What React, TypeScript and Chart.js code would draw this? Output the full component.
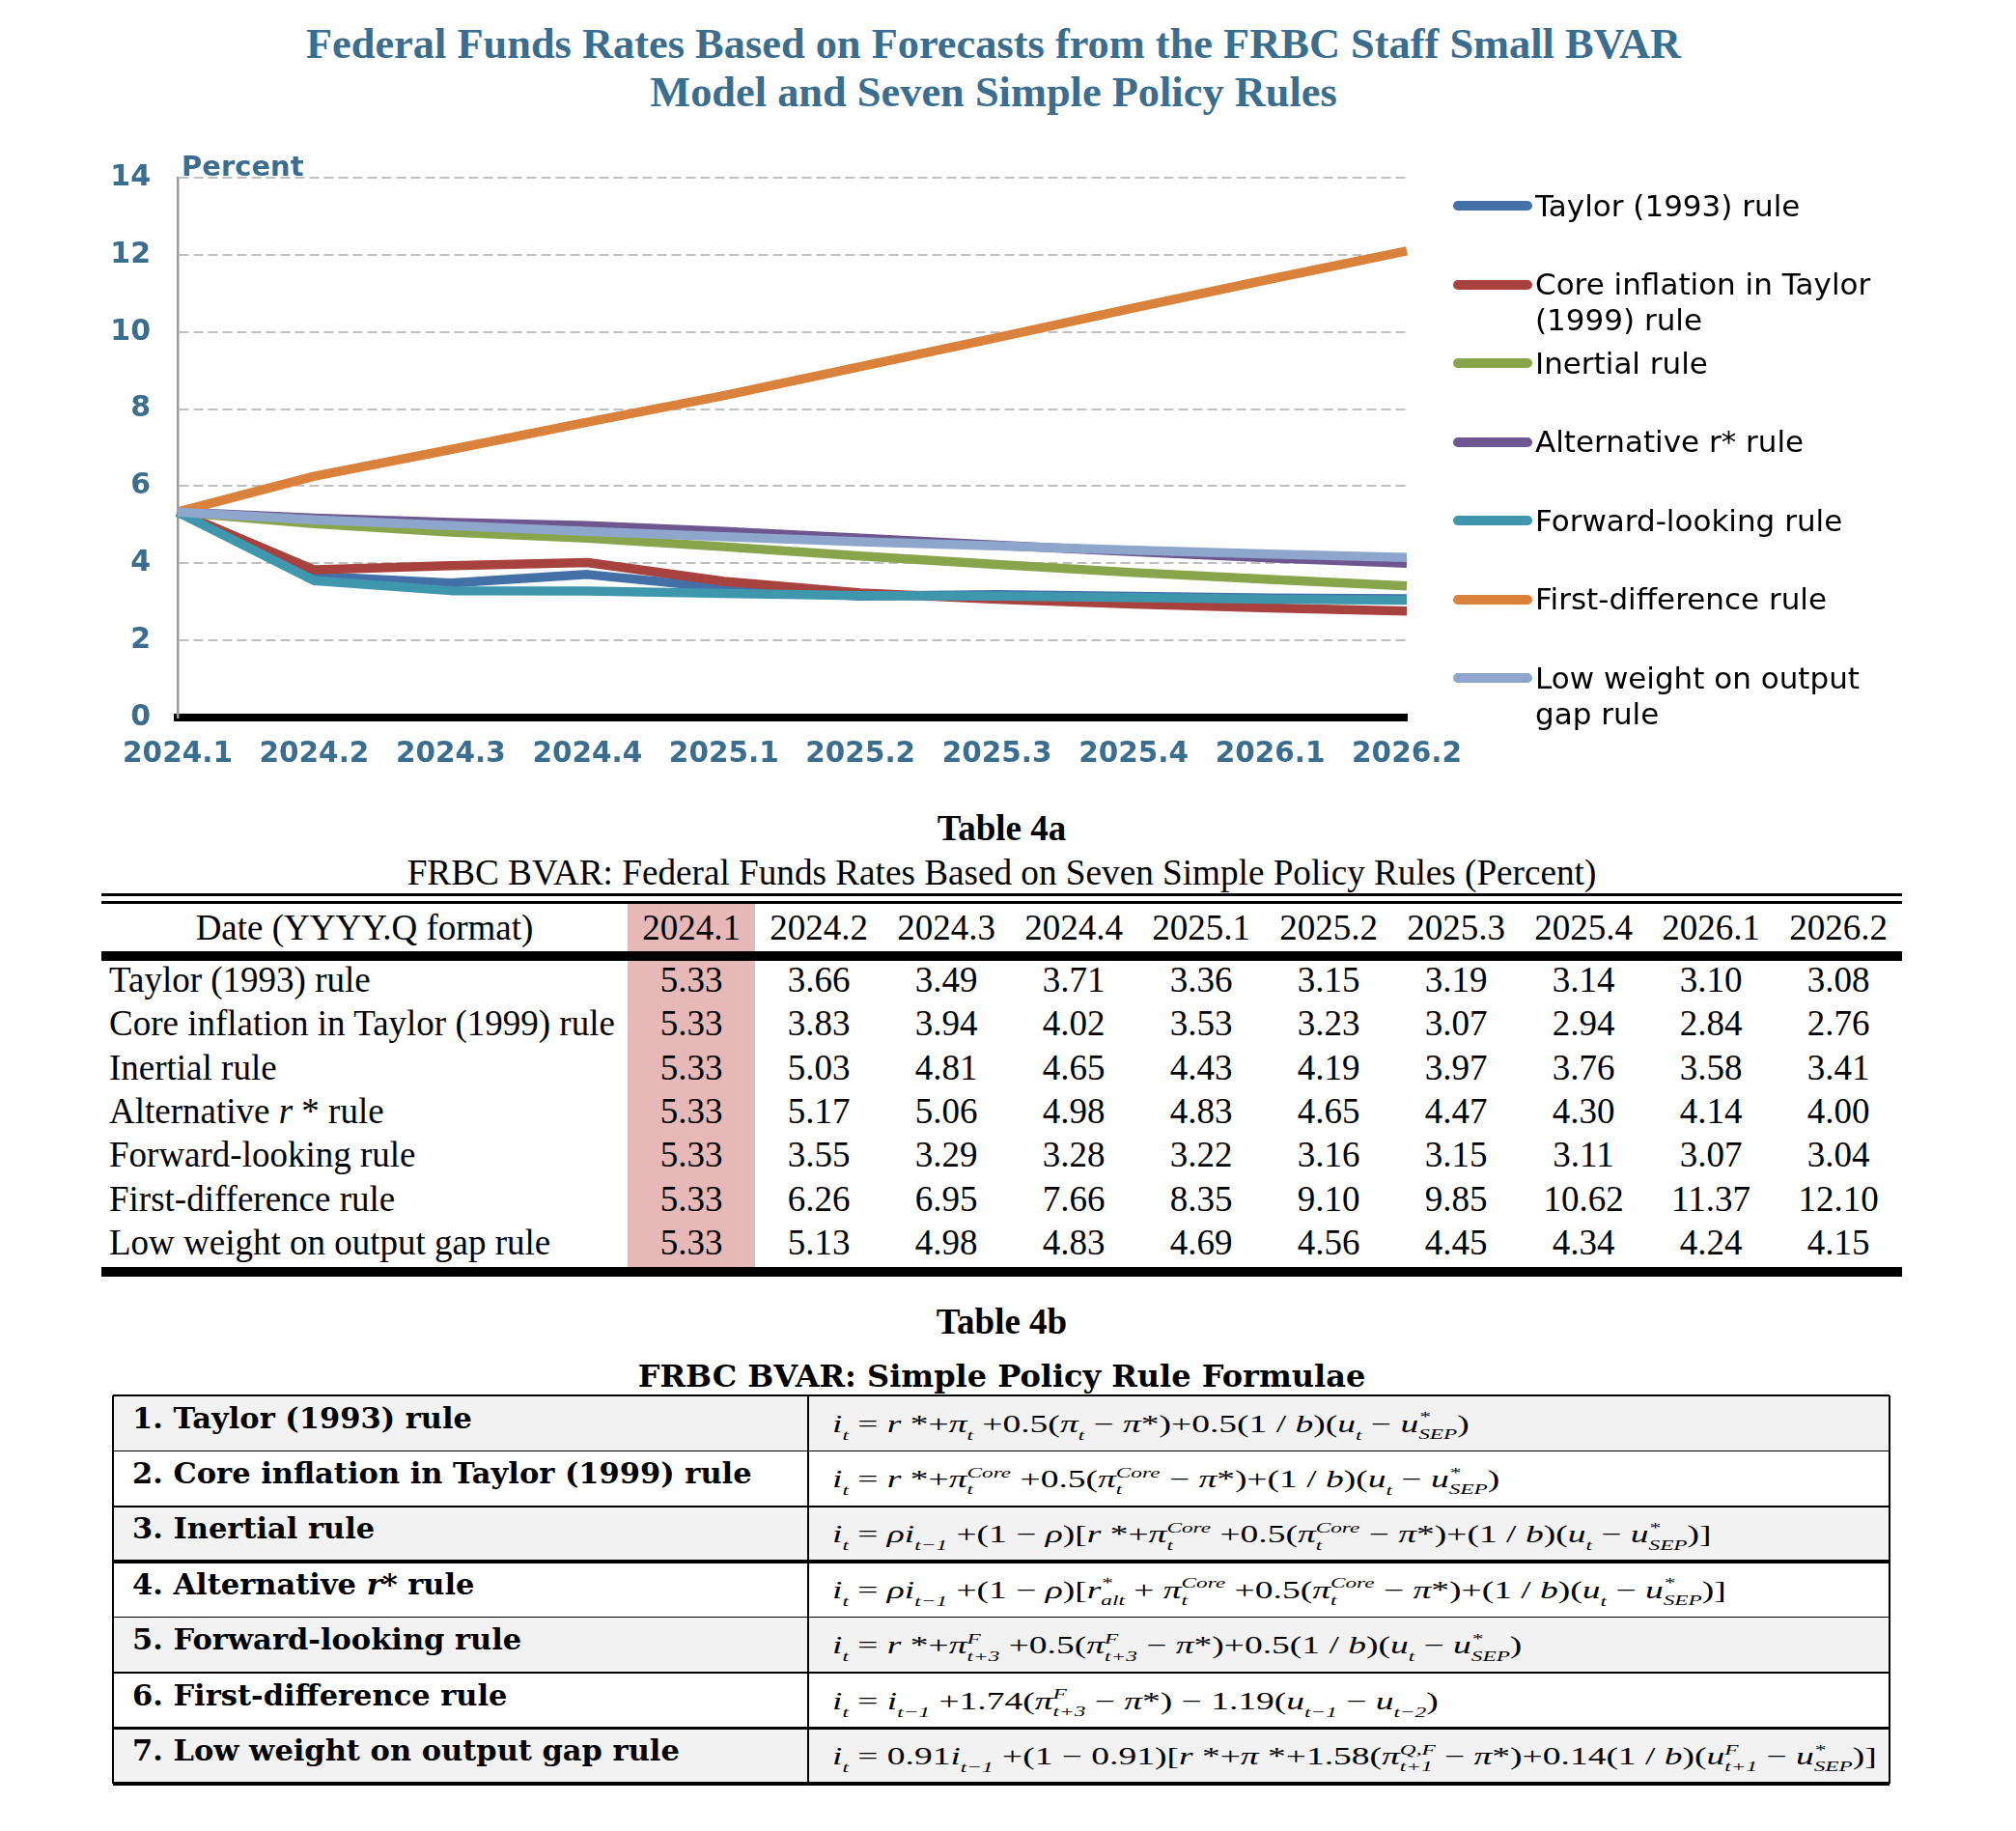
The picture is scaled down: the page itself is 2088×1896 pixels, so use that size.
import React, { useEffect, useRef } from 'react';
import { Chart, registerables } from 'chart.js';

Chart.register(...registerables);

// ---------- data ----------
const categories = ['2024.1', '2024.2', '2024.3', '2024.4', '2025.1', '2025.2', '2025.3', '2025.4', '2026.1', '2026.2'];
const taylor1993 = [5.33, 3.66, 3.49, 3.71, 3.36, 3.15, 3.19, 3.14, 3.10, 3.08];
const coreTaylor1999 = [5.33, 3.83, 3.94, 4.02, 3.53, 3.23, 3.07, 2.94, 2.84, 2.76];
const inertial = [5.33, 5.03, 4.81, 4.65, 4.43, 4.19, 3.97, 3.76, 3.58, 3.41];
const alternativeRStar = [5.33, 5.17, 5.06, 4.98, 4.83, 4.65, 4.47, 4.30, 4.14, 4.00];
const forwardLooking = [5.33, 3.55, 3.29, 3.28, 3.22, 3.16, 3.15, 3.11, 3.07, 3.04];
const firstDifference = [5.33, 6.26, 6.95, 7.66, 8.35, 9.10, 9.85, 10.62, 11.37, 12.10];
const lowWeightOutputGap = [5.33, 5.13, 4.98, 4.83, 4.69, 4.56, 4.45, 4.34, 4.24, 4.15];

const seriesValues = [taylor1993, coreTaylor1999, inertial, alternativeRStar, forwardLooking, firstDifference, lowWeightOutputGap];
const seriesNames = [
  'Taylor (1993) rule',
  'Core inflation in Taylor (1999) rule',
  'Inertial rule',
  'Alternative r* rule',
  'Forward-looking rule',
  'First-difference rule',
  'Low weight on output gap rule',
];
const legendLabels = [
  'Taylor (1993) rule',
  'Core inflation in Taylor\n(1999) rule',
  'Inertial rule',
  'Alternative r* rule',
  'Forward-looking rule',
  'First-difference rule',
  'Low weight on output\ngap rule',
];
const seriesColors = ['#4470A8', '#A8423F', '#88A54C', '#6E5690', '#3F97AE', '#DA823B', '#8EA6CC'];
const yTickValues = [0, 2, 4, 6, 8, 10, 12, 14];

const formulaLabels = [
  '1. Taylor (1993) rule',
  '2. Core inflation in Taylor (1999) rule',
  '3. Inertial rule',
  '4. Alternative r* rule',
  '5. Forward-looking rule',
  '6. First-difference rule',
  '7. Low weight on output gap rule',
];

const BLUE = '#3b6d8f';

// ---------- formula helpers ----------
const I = ({ children }: { children: any }) => <i>{children}</i>;
const Sb = ({ children }: { children: any }) => (
  <span style={{ fontSize: '0.62em', verticalAlign: '-0.5em', fontStyle: 'italic' }}>{children}</span>
);
const SS = ({ sup, sub }: { sup: string; sub: string }) => (
  <span style={{ display: 'inline-flex', flexDirection: 'column', verticalAlign: '0.42em', lineHeight: 1 }}>
    <span style={{ fontSize: '0.62em', lineHeight: 1.15, fontStyle: 'italic' }}>{sup}</span>
    <span style={{ fontSize: '0.62em', lineHeight: 1.15, fontStyle: 'italic' }}>{sub}</span>
  </span>
);

const f1 = (
  <>
    <I>i</I><Sb>t</Sb>{' = '}<I>r</I>{' *+'}<I>π</I><Sb>t</Sb>{' +0.5('}<I>π</I><Sb>t</Sb>{' − '}<I>π</I>{'*)+0.5(1 / '}<I>b</I>{')('}<I>u</I><Sb>t</Sb>{' − '}<I>u</I><SS sup="*" sub="SEP" />{')'}
  </>
);
const f2 = (
  <>
    <I>i</I><Sb>t</Sb>{' = '}<I>r</I>{' *+'}<I>π</I><SS sup="Core" sub="t" />{' +0.5('}<I>π</I><SS sup="Core" sub="t" />{' − '}<I>π</I>{'*)+(1 / '}<I>b</I>{')('}<I>u</I><Sb>t</Sb>{' − '}<I>u</I><SS sup="*" sub="SEP" />{')'}
  </>
);
const f3 = (
  <>
    <I>i</I><Sb>t</Sb>{' = '}<I>ρi</I><Sb>t−1</Sb>{' +(1 − '}<I>ρ</I>{')['}<I>r</I>{' *+'}<I>π</I><SS sup="Core" sub="t" />{' +0.5('}<I>π</I><SS sup="Core" sub="t" />{' − '}<I>π</I>{'*)+(1 / '}<I>b</I>{')('}<I>u</I><Sb>t</Sb>{' − '}<I>u</I><SS sup="*" sub="SEP" />{')]'}
  </>
);
const f4 = (
  <>
    <I>i</I><Sb>t</Sb>{' = '}<I>ρi</I><Sb>t−1</Sb>{' +(1 − '}<I>ρ</I>{')['}<I>r</I><SS sup="*" sub="alt" />{' + '}<I>π</I><SS sup="Core" sub="t" />{' +0.5('}<I>π</I><SS sup="Core" sub="t" />{' − '}<I>π</I>{'*)+(1 / '}<I>b</I>{')('}<I>u</I><Sb>t</Sb>{' − '}<I>u</I><SS sup="*" sub="SEP" />{')]'}
  </>
);
const f5 = (
  <>
    <I>i</I><Sb>t</Sb>{' = '}<I>r</I>{' *+'}<I>π</I><SS sup="F" sub="t+3" />{' +0.5('}<I>π</I><SS sup="F" sub="t+3" />{' − '}<I>π</I>{'*)+0.5(1 / '}<I>b</I>{')('}<I>u</I><Sb>t</Sb>{' − '}<I>u</I><SS sup="*" sub="SEP" />{')'}
  </>
);
const f6 = (
  <>
    <I>i</I><Sb>t</Sb>{' = '}<I>i</I><Sb>t−1</Sb>{' +1.74('}<I>π</I><SS sup="F" sub="t+3" />{' − '}<I>π</I>{'*) − 1.19('}<I>u</I><Sb>t−1</Sb>{' − '}<I>u</I><Sb>t−2</Sb>{')'}
  </>
);
const f7 = (
  <>
    <I>i</I><Sb>t</Sb>{' = 0.91'}<I>i</I><Sb>t−1</Sb>{' +(1 − 0.91)['}<I>r</I>{' *+'}<I>π</I>{' *+1.58('}<I>π</I><SS sup="Q,F" sub="t+1" />{' − '}<I>π</I>{'*)+0.14(1 / '}<I>b</I>{')('}<I>u</I><SS sup="F" sub="t+1" />{' − '}<I>u</I><SS sup="*" sub="SEP" />{')]'}
  </>
);
const formulas = [f1, f2, f3, f4, f5, f6, f7];

function renderRuleLabel(name: string) {
  const idx = name.indexOf('r*');
  if (idx < 0) return name;
  return (
    <>
      {name.slice(0, idx)}<i>r</i>{name.slice(idx + 1)}
    </>
  );
}

const percentPlugin = {
  id: 'percentLabel',
  afterDraw(chart: any) {
    const { ctx, chartArea } = chart;
    ctx.save();
    ctx.font = 'bold 29px "DejaVu Sans"';
    ctx.fillStyle = BLUE;
    ctx.textAlign = 'left';
    ctx.textBaseline = 'alphabetic';
    ctx.fillText('Percent', chartArea.left + 4, chartArea.top - 2);
    ctx.restore();
  },
};

export default function App() {
  const canvasRef = useRef<HTMLCanvasElement | null>(null);

  useEffect(() => {
    if (!canvasRef.current) return;
    const n = seriesValues.length;
    const chart = new Chart(canvasRef.current, {
      type: 'line',
      data: {
        labels: categories,
        datasets: seriesValues.map((data, i) => ({
          label: seriesNames[i],
          data,
          borderColor: seriesColors[i],
          backgroundColor: seriesColors[i],
          borderWidth: 9.5,
          pointRadius: 0,
          pointHoverRadius: 0,
          tension: 0,
          fill: false,
          borderCapStyle: 'butt',
          borderJoinStyle: 'round',
          order: n - i,
        })),
      },
      options: {
        responsive: false,
        maintainAspectRatio: false,
        animation: false,
        devicePixelRatio: 1,
        layout: { padding: { top: 64, right: 103, left: 0, bottom: 0 } },
        plugins: {
          legend: { display: false },
          tooltip: { enabled: false },
          title: { display: false },
        },
        scales: {
          x: {
            type: 'category',
            offset: false,
            grid: { display: false, drawTicks: false },
            border: { display: true, color: '#000000', width: 8 },
            ticks: {
              color: BLUE,
              font: { family: 'DejaVu Sans', size: 29.5, weight: 'bold' },
              padding: 21,
              maxRotation: 0,
              autoSkip: false,
            },
            afterFit: (s: any) => {
              s.height = 77;
            },
          },
          y: {
            min: yTickValues[0],
            max: yTickValues[yTickValues.length - 1],
            afterBuildTicks: (s: any) => {
              s.ticks = yTickValues.map((v) => ({ value: v }));
            },
            ticks: {
              color: BLUE,
              font: { family: 'DejaVu Sans', size: 30, weight: 'bold' },
              padding: 28,
              callback: (v: any) => String(v),
            },
            grid: {
              color: (ctx: any) => (ctx.tick && ctx.tick.value === 0 ? 'rgba(0,0,0,0)' : '#BFBFBF'),
              lineWidth: 2,
              drawTicks: false,
            },
            border: { display: true, color: '#9A9A9A', width: 2.5, dash: [10, 5] },
            afterFit: (s: any) => {
              s.width = 184;
            },
          },
        },
      } as any,
      plugins: [percentPlugin],
    });
    return () => chart.destroy();
  }, []);

  const T4A_LEFT = 105;
  const T4A_FIRST = 545;
  const T4A_COLW = 132;
  const T4A_WIDTH = T4A_FIRST + T4A_COLW * categories.length;
  const ROW_H = 45.3;
  const ROWS_TOP = 995;
  const serif = '"Liberation Serif", "Times New Roman", serif';

  const T4B_LEFT = 117;
  const T4B_RIGHT = 1957;
  const T4B_DIV = 837;
  const T4B_TOP = 1445;
  const T4B_ROW = 57.4;

  return (
    <div
      style={{
        position: 'absolute',
        left: 0,
        top: 0,
        width: 2088,
        height: 1896,
        overflow: 'hidden',
        background: '#ffffff',
        color: '#000',
      }}
    >
      {/* Title */}
      <div
        style={{
          position: 'absolute',
          left: 0,
          top: 20,
          width: 2058,
          textAlign: 'center',
          fontFamily: serif,
          fontWeight: 'bold',
          fontSize: 44.4,
          lineHeight: '50px',
          color: BLUE,
        }}
      >
        Federal Funds Rates Based on Forecasts from the FRBC Staff Small BVAR
        <br />
        Model and Seven Simple Policy Rules
      </div>

      {/* Chart */}
      <canvas
        ref={canvasRef}
        width={1560}
        height={700}
        style={{ position: 'absolute', left: 0, top: 120, width: 1560, height: 700 }}
      />

      {/* Legend */}
      {legendLabels.map((lab, i) => {
        const cy = 213 + i * 81.5;
        return (
          <div
            key={i}
            style={{ position: 'absolute', left: 1505, top: cy - 18.5, display: 'flex', alignItems: 'flex-start' }}
          >
            <div style={{ width: 82, height: 10, borderRadius: 5, background: seriesColors[i], marginTop: 13.5 }} />
            <div
              style={{
                marginLeft: 3,
                fontFamily: '"DejaVu Sans", Verdana, sans-serif',
                fontSize: 31,
                lineHeight: '37px',
                whiteSpace: 'pre',
                color: '#000',
              }}
            >
              {lab}
            </div>
          </div>
        );
      })}

      {/* Table 4a */}
      <div
        style={{
          position: 'absolute',
          left: T4A_LEFT,
          width: T4A_WIDTH,
          top: 834.5,
          lineHeight: '46px',
          textAlign: 'center',
          fontFamily: serif,
          fontWeight: 'bold',
          fontSize: 37,
        }}
      >
        Table 4a
      </div>
      <div
        style={{
          position: 'absolute',
          left: T4A_LEFT,
          width: T4A_WIDTH,
          top: 880.5,
          lineHeight: '46px',
          textAlign: 'center',
          fontFamily: serif,
          fontSize: 37.2,
          whiteSpace: 'nowrap',
        }}
      >
        FRBC BVAR: Federal Funds Rates Based on Seven Simple Policy Rules (Percent)
      </div>
      <div style={{ position: 'absolute', left: T4A_LEFT, top: 925, width: T4A_WIDTH, height: 3, background: '#000' }} />
      <div style={{ position: 'absolute', left: T4A_LEFT, top: 933, width: T4A_WIDTH, height: 3, background: '#000' }} />
      <div
        style={{
          position: 'absolute',
          left: T4A_LEFT + T4A_FIRST,
          top: 936,
          width: T4A_COLW,
          height: 1312 - 936,
          background: '#E6B9B8',
        }}
      />
      {/* header */}
      <div
        style={{
          position: 'absolute',
          left: T4A_LEFT,
          top: 936,
          width: T4A_FIRST,
          height: 49,
          lineHeight: '49px',
          textAlign: 'center',
          fontFamily: serif,
          fontSize: 37,
          whiteSpace: 'nowrap',
        }}
      >
        Date (YYYY.Q format)
      </div>
      {categories.map((c, j) => (
        <div
          key={c}
          style={{
            position: 'absolute',
            left: T4A_LEFT + T4A_FIRST + j * T4A_COLW,
            top: 936,
            width: T4A_COLW,
            height: 49,
            lineHeight: '49px',
            textAlign: 'center',
            fontFamily: serif,
            fontSize: 37,
          }}
        >
          {c}
        </div>
      ))}
      <div style={{ position: 'absolute', left: T4A_LEFT, top: 985, width: T4A_WIDTH, height: 10, background: '#000' }} />
      {seriesNames.map((name, r) => (
        <React.Fragment key={name}>
          <div
            style={{
              position: 'absolute',
              left: T4A_LEFT + 8,
              top: ROWS_TOP + r * ROW_H - 3,
              height: ROW_H,
              lineHeight: ROW_H + 'px',
              fontFamily: serif,
              fontSize: 37,
              whiteSpace: 'nowrap',
            }}
          >
            {r === 3 ? (
              <>
                Alternative <i>r</i> * rule
              </>
            ) : (
              name
            )}
          </div>
          {seriesValues[r].map((v, j) => (
            <div
              key={j}
              style={{
                position: 'absolute',
                left: T4A_LEFT + T4A_FIRST + j * T4A_COLW,
                top: ROWS_TOP + r * ROW_H - 3,
                width: T4A_COLW,
                height: ROW_H,
                lineHeight: ROW_H + 'px',
                textAlign: 'center',
                fontFamily: serif,
                fontSize: 37,
              }}
            >
              {v.toFixed(2)}
            </div>
          ))}
        </React.Fragment>
      ))}
      <div style={{ position: 'absolute', left: T4A_LEFT, top: 1312, width: T4A_WIDTH, height: 10, background: '#000' }} />

      {/* Table 4b */}
      <div
        style={{
          position: 'absolute',
          left: T4A_LEFT,
          width: T4A_WIDTH,
          top: 1345.5,
          lineHeight: '46px',
          textAlign: 'center',
          fontFamily: serif,
          fontWeight: 'bold',
          fontSize: 37,
        }}
      >
        Table 4b
      </div>
      <div
        style={{
          position: 'absolute',
          left: T4A_LEFT,
          width: T4A_WIDTH,
          top: 1405,
          lineHeight: '40px',
          textAlign: 'center',
          fontFamily: '"DejaVu Serif", serif',
          fontWeight: 'bold',
          fontSize: 32,
          whiteSpace: 'nowrap',
        }}
      >
        FRBC BVAR: Simple Policy Rule Formulae
      </div>
      {formulaLabels.map((lab, r) => {
        const top = T4B_TOP + r * T4B_ROW;
        return (
          <React.Fragment key={lab}>
            <div
              style={{
                position: 'absolute',
                left: T4B_LEFT,
                top,
                width: T4B_RIGHT - T4B_LEFT,
                height: T4B_ROW,
                background: r % 2 === 0 ? '#F2F2F2' : '#FFFFFF',
              }}
            />
            <div
              style={{
                position: 'absolute',
                left: T4B_LEFT + 20,
                top: top + 2.5,
                height: 40,
                lineHeight: '40px',
                fontFamily: '"DejaVu Serif", serif',
                fontWeight: 'bold',
                fontSize: 30.5,
                whiteSpace: 'nowrap',
              }}
            >
              {renderRuleLabel(lab)}
            </div>
            <div
              style={{
                position: 'absolute',
                left: T4B_DIV + 25,
                top: top + 9.6,
                height: 40,
                lineHeight: '40px',
                fontFamily: serif,
                fontSize: 25,
                whiteSpace: 'pre',
                transform: 'scaleX(1.5)',
                transformOrigin: 'left center',
              }}
            >
              {formulas[r]}
            </div>
          </React.Fragment>
        );
      })}
      {/* 4b horizontal rules */}
      {Array.from({ length: formulaLabels.length + 1 }).map((_, k) => {
        const thick = k === 3 || k === 6 || k === 7;
        const w = thick ? 3.5 : 1.6;
        return (
          <div
            key={'h' + k}
            style={{
              position: 'absolute',
              left: T4B_LEFT,
              top: T4B_TOP + k * T4B_ROW - w / 2,
              width: T4B_RIGHT - T4B_LEFT,
              height: w,
              background: '#000',
            }}
          />
        );
      })}
      {[T4B_LEFT, T4B_DIV, T4B_RIGHT].map((x) => (
        <div
          key={'v' + x}
          style={{
            position: 'absolute',
            left: x - 0.8,
            top: T4B_TOP,
            width: 1.6,
            height: formulaLabels.length * T4B_ROW,
            background: '#000',
          }}
        />
      ))}
    </div>
  );
}
